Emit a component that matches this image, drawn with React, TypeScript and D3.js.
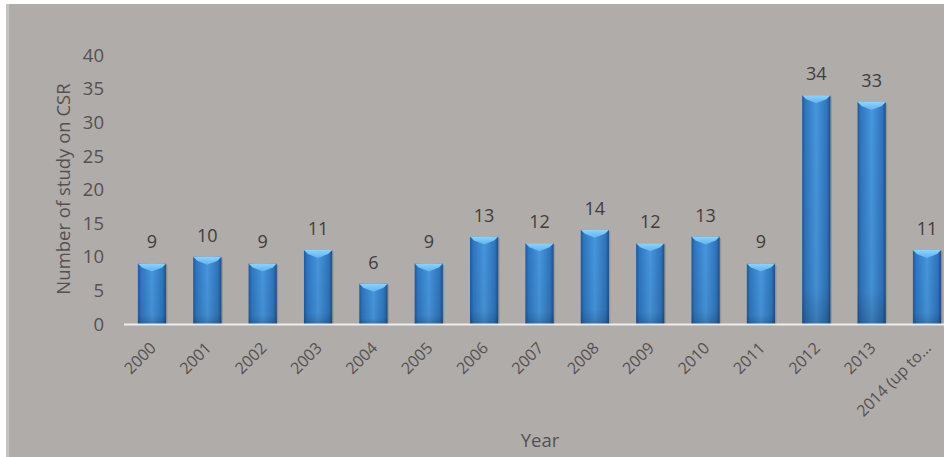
import React from "react";
import * as d3 from "d3";

const categories = ["2000","2001","2002","2003","2004","2005","2006","2007","2008","2009","2010","2011","2012","2013","2014 (up to…"];
const values = [9,10,9,11,6,9,13,12,14,12,13,9,34,33,11];
const yTicks = [0,5,10,15,20,25,30,35,40];
const yTitle = "Number of study on CSR";
const xTitle = "Year";

const W = 944, H = 457;

export default function App() {
  const x = d3.scaleBand<string>().domain(categories).range([124.3, 954.7]).paddingInner(0.49).paddingOuter(0.245);
  const y = d3.scaleLinear().domain([0, 40]).range([324, 55]);
  const font = "'Open Sans', 'Liberation Sans', sans-serif";
  const bw = x.bandwidth();
  return (
    <svg width={W} height={H} style={{ position: "absolute", left: 0, top: 0 }} fontFamily={font}>
      <defs>
        <linearGradient id="barg" x1="0" x2="1" y1="0" y2="0">
          <stop offset="0" stopColor="#22599a" />
          <stop offset="0.12" stopColor="#2f77c2" />
          <stop offset="0.5" stopColor="#4796dc" />
          <stop offset="0.88" stopColor="#2f74bc" />
          <stop offset="1" stopColor="#1f4f88" />
        </linearGradient>
        <linearGradient id="bev" x1="0" x2="0" y1="0" y2="1">
          <stop offset="0" stopColor="#8fd3fb" />
          <stop offset="1" stopColor="#5fb2ee" />
        </linearGradient>
        <linearGradient id="shade" x1="0" x2="0" y1="0" y2="1">
          <stop offset="0" stopColor="#000" stopOpacity="0" />
          <stop offset="0.85" stopColor="#000" stopOpacity="0.05" />
          <stop offset="1" stopColor="#000" stopOpacity="0.2" />
        </linearGradient>
      </defs>
      <rect x={0} y={0} width={W} height={H} fill="#ffffff" />
      <rect x={6} y={4} width={W} height={H} fill="#c6c2c0" />
      <rect x={9} y={4} width={W} height={H} fill="#b0acaa" />

      {yTicks.map((t) => (
        <text key={t} x={104} y={y(t)} dy="0.36em" textAnchor="end" fontSize={18.5} fill="#555152">{t}</text>
      ))}
      <text transform={`translate(70,${189}) rotate(-90)`} textAnchor="middle" fontSize={18.5} fill="#555152">{yTitle}</text>

      {categories.map((c, i) => {
        const x0 = x(c)!;
        const top = y(values[i]);
        const h = y(0) - top;
        const cx = x0 + bw / 2;
        return (
          <g key={c}>
            <rect x={x0 + 1.5} y={top + 1.5} width={bw} height={h} fill="#000" opacity={0.12} />
            <rect x={x0} y={top} width={bw} height={h} fill="url(#barg)" />
            <rect x={x0} y={top} width={bw} height={h} fill="url(#shade)" />
            <polygon points={`${x0},${top} ${x0 + bw},${top} ${x0 + bw - 4},${top + 4} ${cx},${top + 8} ${x0 + 4},${top + 4}`} fill="url(#bev)" />
            <text x={cx} y={top - 15} textAnchor="middle" fontSize={18} fill="#3f3d3d">{values[i]}</text>
            <text transform={`translate(${cx + 5},${349}) rotate(-45)`} textAnchor="end" fontSize={16} fill="#555152">{c}</text>
          </g>
        );
      })}
      <line x1={124} x2={W} y1={y(0) + 0.5} y2={y(0) + 0.5} stroke="#eeeeee" strokeWidth={2} />
      <text x={540} y={447} textAnchor="middle" fontSize={18.5} fill="#555152">{xTitle}</text>
    </svg>
  );
}
